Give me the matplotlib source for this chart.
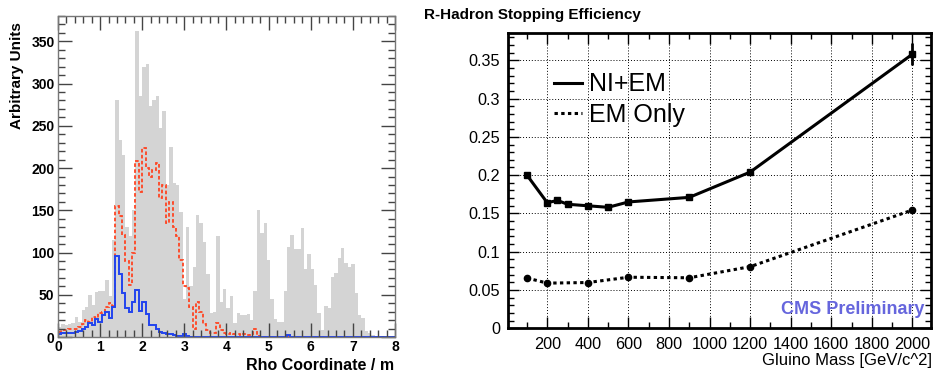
import numpy as np
import matplotlib.pyplot as plt
from matplotlib.lines import Line2D
from matplotlib.ticker import MultipleLocator, FormatStrFormatter

plt.rcParams["font.family"] = ["Liberation Sans", "DejaVu Sans"]

# left panel: stopping position in rho, 100 bins of 0.08 m
rho_edges = np.linspace(0, 8, 101)
all_counts = [12, 15, 14, 15, 16, 24, 18, 32, 36, 50,
              38, 53, 55, 55, 68, 48, 115, 280, 233, 215,
              130, 120, 150, 362, 285, 320, 323, 273, 280, 285,
              248, 267, 180, 225, 182, 180, 148, 45, 130, 60,
              83, 145, 135, 112, 75, 28, 30, 119, 42, 57,
              34, 48, 16, 29, 26, 26, 27, 20, 54, 150,
              123, 135, 91, 45, 21, 18, 18, 54, 107, 121,
              104, 104, 129, 80, 98, 80, 62, 29, 8, 37,
              34, 71, 76, 93, 105, 88, 83, 87, 52, 26,
              22, 7, 5, 2, 1, 0, 0, 0, 0, 0]
red_counts = [6, 8, 8, 9, 9, 10, 12, 15, 20, 18,
              24, 22, 28, 30, 35, 40, 37, 155, 143, 121,
              90, 62, 99, 208, 172, 224, 200, 190, 198, 206,
              165, 180, 135, 160, 130, 120, 91, 60, 58, 36,
              10, 42, 30, 15, 8, 5, 5, 16, 8, 5,
              4, 5, 3, 4, 2, 3, 2, 3, 9, 1,
              0, 0, 0, 0, 0, 0, 0, 0, 1, 0,
              0, 0, 0, 0, 0, 0, 0, 0, 0, 0,
              0, 0, 0, 0, 0, 0, 0, 0, 0, 0,
              0, 0, 0, 0, 0, 0, 0, 0, 0, 0]
blue_counts = [3, 5, 5, 5, 5, 6, 7, 10, 12, 16,
               14, 21, 18, 26, 30, 22, 35, 96, 75, 52,
               34, 30, 42, 56, 31, 42, 27, 14, 14, 10,
               6, 5, 4, 3, 2, 1, 1, 3, 1, 0,
               0, 0, 0, 0, 0, 0, 0, 0, 0, 0,
               0, 0, 0, 0, 0, 0, 0, 0, 0, 0,
               0, 0, 0, 0, 0, 0, 0, 0, 2, 0,
               0, 0, 0, 0, 0, 0, 0, 0, 0, 0,
               0, 0, 0, 0, 0, 0, 0, 0, 0, 0,
               0, 0, 0, 0, 0, 0, 0, 0, 0, 0]

# right panel: stopping efficiency vs gluino mass
mass_ni = [100, 200, 250, 300, 400, 500, 600, 900, 1200, 2000]
eff_ni = [0.200, 0.164, 0.167, 0.162, 0.160, 0.158, 0.165, 0.171, 0.204, 0.358]
err_ni = [0.002, 0.002, 0.002, 0.002, 0.002, 0.002, 0.002, 0.002, 0.002, 0.0145]
mass_em = [100, 200, 400, 600, 900, 1200, 2000]
eff_em = [0.0657, 0.0590, 0.0598, 0.0667, 0.0660, 0.0805, 0.1545]
series_labels = ["NI+EM", "EM Only"]

fig = plt.figure(figsize=(9.35, 3.73), dpi=100)

# ---- left
ax1 = fig.add_axes([0.062, 0.0965, 0.3604, 0.8606])
ax1.stairs(all_counts, rho_edges, fill=True, color="#d4d4d4", lw=0)
ax1.stairs(red_counts, rho_edges, color="#ff4422", lw=1.3, ls=(0, (2, 1.3)))
ax1.stairs(blue_counts, rho_edges, color="#2244ee", lw=1.4)
ax1.set_xlim(0, 8)
ax1.set_ylim(0, 380)
ax1.xaxis.set_major_locator(MultipleLocator(1))
ax1.xaxis.set_minor_locator(MultipleLocator(0.2))
ax1.yaxis.set_major_locator(MultipleLocator(50))
ax1.yaxis.set_minor_locator(MultipleLocator(10))
ax1.tick_params(which="both", direction="in", top=True, right=True,
                colors="#444444", labelcolor="black", width=1)
ax1.tick_params(which="major", length=10, pad=2.5, labelsize=10)
ax1.tick_params(which="minor", length=5)
for lab in ax1.get_xticklabels() + ax1.get_yticklabels():
    lab.set_fontweight("bold")
for sp in ax1.spines.values():
    sp.set_color("#777777")
    sp.set_linewidth(1)

fig.text(17 / 935, 1 - 76 / 373, "Arbitrary Units", rotation=90,
         ha="center", va="center", fontsize=11, fontweight="bold")
fig.text(394 / 935, 1 - 365 / 373, "Rho Coordinate / m",
         ha="right", va="center", fontsize=11.5, fontweight="bold")

# ---- right
ax2 = fig.add_axes([0.543, 0.1198, 0.4524, 0.7925])
ax2.errorbar(mass_ni, eff_ni, yerr=err_ni, color="black", lw=2.2,
             marker="s", ms=4, capsize=0, elinewidth=2)
ax2.plot(mass_em, eff_em, color="black", lw=2.2, ls=(0, (1.1, 1.1)),
         marker="o", ms=4.5)
ax2.set_xlim(5, 2090)
ax2.set_ylim(0, 0.386)
ax2.xaxis.set_major_locator(MultipleLocator(200))
ax2.xaxis.set_minor_locator(MultipleLocator(100))
ax2.yaxis.set_major_locator(MultipleLocator(0.05))
ax2.yaxis.set_minor_locator(MultipleLocator(0.01))
ax2.yaxis.set_major_formatter(FormatStrFormatter("%g"))
ax2.grid(True, which="major", ls=(0, (1, 2)), color="black", lw=0.7)
ax2.tick_params(which="both", direction="in", top=True, right=True, width=1)
ax2.tick_params(which="major", length=8, labelsize=11.7)
ax2.tick_params(axis="y", which="major", pad=5.5)
ax2.tick_params(axis="x", which="major", pad=6)
ax2.tick_params(which="minor", length=4)
for sp in ax2.spines.values():
    sp.set_linewidth(2)

# legend shows line style only, as in the original
handles = [Line2D([], [], color="black", lw=2.2),
           Line2D([], [], color="black", lw=2.2, ls=(0, (1.1, 1.1)))]
ax2.legend(handles, series_labels, loc="upper left",
           bbox_to_anchor=(0.11, 0.866), frameon=False,
           fontsize=18, handlelength=1.1, handletextpad=0.3,
           borderpad=0, borderaxespad=0, labelspacing=0.25)
ax2.text(0.9865, 0.065, "CMS Preliminary", transform=ax2.transAxes,
         ha="right", va="center", fontsize=13, fontweight="bold",
         color="#6666dd")

fig.text(424 / 935, 1 - 15 / 373, "R-Hadron Stopping Efficiency",
         ha="left", va="center", fontsize=11, fontweight="bold")
fig.text(932 / 935, 1 - 361 / 373, "Gluino Mass [GeV/c^2]",
         ha="right", va="center", fontsize=12)

fig.savefig("out.png", dpi=100)
